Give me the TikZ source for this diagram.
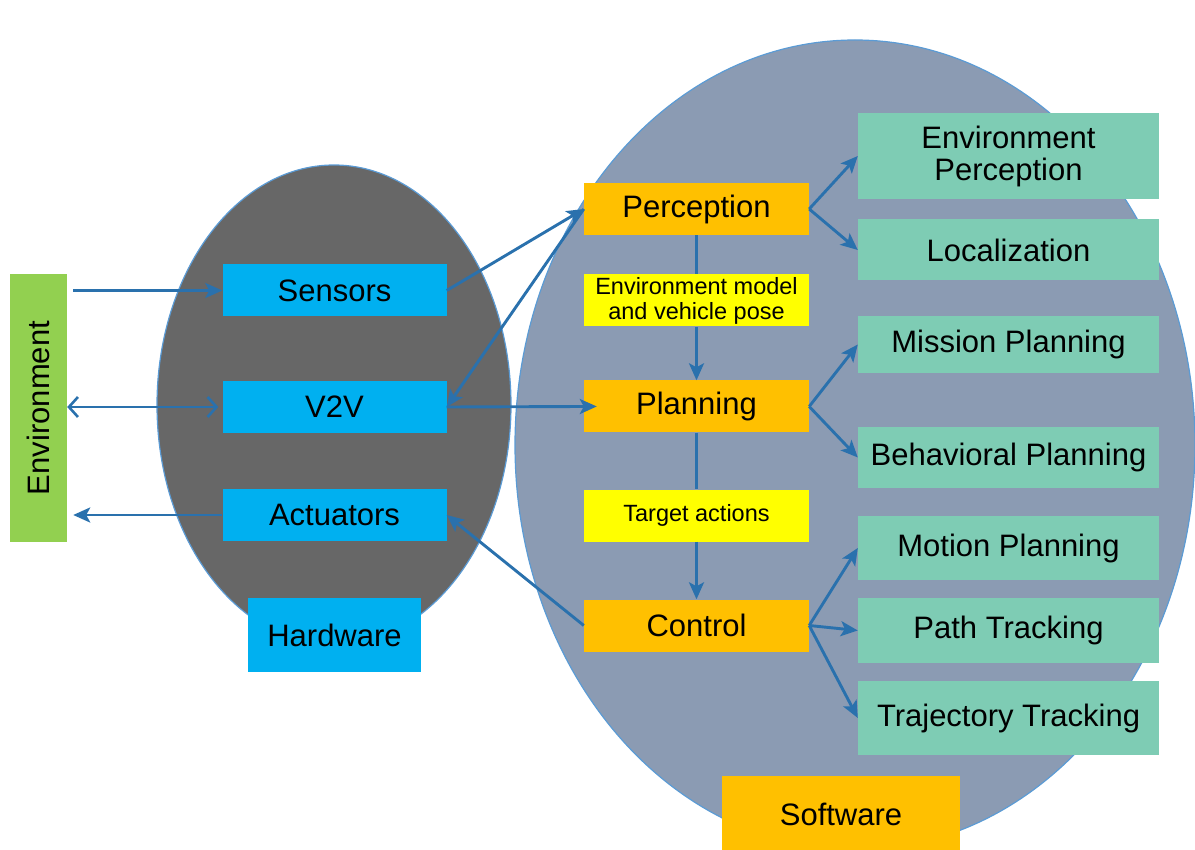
\documentclass[tikz,border=0pt]{standalone}
\usepackage{fontspec}
\setmainfont{Liberation Sans}
\usetikzlibrary{arrows.meta}
\definecolor{hwgray}{HTML}{676767}
\definecolor{swgray}{HTML}{8B9BB3}
\definecolor{rimblue}{HTML}{5B9BD5}
\definecolor{envgreen}{HTML}{92D050}
\definecolor{hwcyan}{HTML}{00B0F0}
\definecolor{swgold}{HTML}{FFC000}
\definecolor{datayellow}{HTML}{FFFF00}
\definecolor{subteal}{HTML}{7ECCB4}
\definecolor{link}{HTML}{2A71AD}
\newcommand{\bigtxt}{\fontsize{31}{34}\selectfont}
\newcommand{\smalltxt}{\fontsize{23.5}{25}\selectfont}
\begin{document}
\begin{tikzpicture}[x=1pt,y=-1pt,
  box/.style={inner sep=0pt, align=center, font=\bigtxt, text=black},
  hwbox/.style={box, fill=hwcyan, minimum width=224pt, minimum height=52pt},
  swbox/.style={box, fill=swgold, minimum width=225pt, minimum height=52pt},
  databox/.style={box, fill=datayellow, font=\smalltxt, minimum width=225pt, minimum height=52pt},
  subbox/.style={box, fill=subteal, minimum width=301pt},
  flow/.style={draw=link, line width=2.9pt, -{Stealth[length=17pt,width=15pt,inset=4pt]}},
  plainflow/.style={draw=link, line width=2.9pt},
  duplex/.style={draw=link, line width=2.9pt,
    {Straight Barb[length=9pt,width=20pt,line width=2.6pt]}-{Straight Barb[length=9pt,width=20pt,line width=2.6pt]}}
]
\useasboundingbox (0,0) rectangle (1195,850);
\clip (0,0) rectangle (1195,850);

% the two domains
\draw[fill=swgray, draw=rimblue, line width=1.2pt] (855,445) ellipse [x radius=340pt, y radius=405pt];
\draw[fill=hwgray, draw=rimblue, line width=1.2pt] (334,405) ellipse [x radius=177pt, y radius=240pt];

% environment
\node[box, fill=envgreen, minimum width=57pt, minimum height=268pt] (env) at (38.5,408) {};
\node[box, rotate=90] at (env.center) {Environment};

% hardware side
\node[hwbox] (sensors) at (334.5,290.5) {Sensors};
\node[hwbox] (v2v) at (334.5,407) {V2V};
\node[hwbox] (act) at (334.5,515) {Actuators};
\node[box, fill=hwcyan, minimum width=173pt, minimum height=74pt] (hw) at (334.5,635) {Hardware};

% software pipeline
\node[swbox] (perc) at (696.5,209) {Perception};
\node[databox] (envmodel) at (696.5,300.5) {Environment model\\and vehicle pose};
\node[swbox] (plan) at (696.5,406.5) {Planning};
\node[databox] (target) at (696.5,515.5) {Target actions};
\node[swbox] (ctrl) at (696.5,625.5) {Control};
\node[box, fill=swgold, minimum width=238pt, minimum height=76pt] (sw) at (841,814) {Software};

% software sub-functions
\node[subbox, minimum height=86pt] (envperc) at (1008.5,156) {Environment\\[-2pt]Perception};
\node[subbox, minimum height=61pt] (loc) at (1008.5,250) {Localization};
\node[subbox, minimum height=57pt] (mission) at (1008.5,344.5) {Mission Planning};
\node[subbox, minimum height=61pt] (behav) at (1008.5,457.5) {Behavioral Planning};
\node[subbox, minimum height=64pt] (motion) at (1008.5,548) {Motion Planning};
\node[subbox, minimum height=65pt] (path) at (1008.5,630.5) {Path Tracking};
\node[subbox, minimum height=74pt] (traj) at (1008.5,718) {Trajectory Tracking};

% links with the environment
\draw[flow] ([xshift=6pt]env.east |- sensors.west) -- (sensors.west);
\draw[duplex] (env.east |- v2v.west) -- ([xshift=-4pt]v2v.west);
\draw[flow] (act.west) -- ([xshift=6pt]env.east |- act.west);

% hardware <-> software
\draw[flow] (sensors.east) -- (perc.west);
\draw[flow] (perc.west) -- (v2v.east);
\draw[flow, shorten >=-13pt] (v2v.east) -- (plan.west);
\draw[flow] (ctrl.west) -- (act.east);

% pipeline
\draw[plainflow] (perc.south) -- (envmodel.north);
\draw[flow] (envmodel.south) -- (plan.north);
\draw[plainflow] (plan.south) -- (target.north);
\draw[flow] (target.south) -- (ctrl.north);

% fan-out to sub-functions
\draw[flow] (perc.east) -- (envperc.west);
\draw[flow] (perc.east) -- (loc.west);
\draw[flow] (plan.east) -- (mission.west);
\draw[flow] (plan.east) -- (behav.west);
\draw[flow] (ctrl.east) -- (motion.west);
\draw[flow] (ctrl.east) -- (path.west);
\draw[flow] (ctrl.east) -- (traj.west);
\end{tikzpicture}
\end{document}
